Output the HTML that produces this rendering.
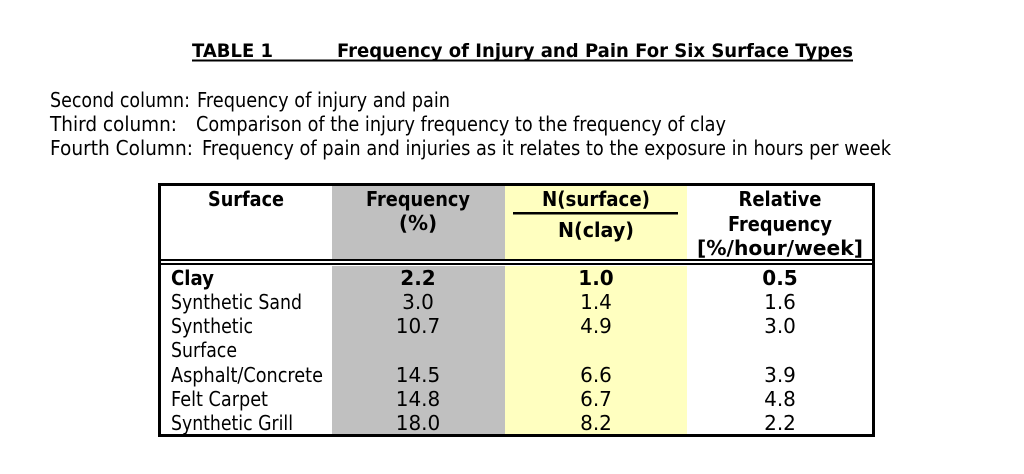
<!DOCTYPE html>
<html><head><meta charset="utf-8"><style>
html,body{margin:0;padding:0;background:#fff;}
svg{display:block;}
text{font-family:"DejaVu Sans","Liberation Sans",sans-serif;fill:#000;}
.b{font-weight:bold;}
</style></head><body>
<svg width="1024" height="474" viewBox="0 0 1024 474">
<text x="192" y="57" font-size="19" class="b" textLength="81" lengthAdjust="spacingAndGlyphs">TABLE 1</text>
<text x="337" y="57" font-size="19" class="b" textLength="516" lengthAdjust="spacingAndGlyphs">Frequency of Injury and Pain For Six Surface Types</text>
<rect x="192" y="59.5" width="661" height="2" fill="#000"/>

<text x="50" y="107" font-size="20" textLength="140" lengthAdjust="spacingAndGlyphs">Second column:</text>
<text x="197" y="107" font-size="20" textLength="253" lengthAdjust="spacingAndGlyphs">Frequency of injury and pain</text>
<text x="50" y="131" font-size="20" textLength="127" lengthAdjust="spacingAndGlyphs">Third column:</text>
<text x="196" y="131" font-size="20" textLength="530" lengthAdjust="spacingAndGlyphs">Comparison of the injury frequency to the frequency of clay</text>
<text x="50" y="155" font-size="20" textLength="143" lengthAdjust="spacingAndGlyphs">Fourth Column:</text>
<text x="202" y="155" font-size="20" textLength="689" lengthAdjust="spacingAndGlyphs">Frequency of pain and injuries as it relates to the exposure in hours per week</text>

<rect x="332" y="186" width="173" height="73" fill="#c0c0c0"/>
<rect x="332" y="266" width="173" height="169" fill="#c0c0c0"/>
<rect x="505" y="186" width="182" height="73" fill="#ffffc0"/>
<rect x="505" y="266" width="182" height="169" fill="#ffffc0"/>
<rect x="159.5" y="184.5" width="714" height="251" fill="none" stroke="#000" stroke-width="3"/>
<rect x="159" y="259" width="715" height="2" fill="#000"/>
<rect x="159" y="263" width="715" height="2" fill="#000"/>

<g font-size="20" text-anchor="middle">
<text x="246" y="206" class="b" textLength="76" lengthAdjust="spacingAndGlyphs">Surface</text>
<text x="418" y="206" class="b" textLength="104" lengthAdjust="spacingAndGlyphs">Frequency</text>
<text x="418" y="230" class="b">(%)</text>
<text x="596" y="206" class="b" textLength="108" lengthAdjust="spacingAndGlyphs">N(surface)</text>
<text x="596" y="237" class="b" textLength="76" lengthAdjust="spacingAndGlyphs">N(clay)</text>
<text x="780" y="206" class="b" textLength="83" lengthAdjust="spacingAndGlyphs">Relative</text>
<text x="780" y="231" class="b" textLength="104" lengthAdjust="spacingAndGlyphs">Frequency</text>
<text x="780" y="255" class="b" textLength="166" lengthAdjust="spacingAndGlyphs">[%/hour/week]</text>
</g>
<rect x="513" y="212" width="165" height="2.5" fill="#000"/>

<g font-size="20">
<text x="171" y="285" class="b" textLength="43" lengthAdjust="spacingAndGlyphs">Clay</text>
<text x="171" y="309" textLength="131" lengthAdjust="spacingAndGlyphs">Synthetic Sand</text>
<text x="171" y="333" textLength="82" lengthAdjust="spacingAndGlyphs">Synthetic</text>
<text x="171" y="357" textLength="66" lengthAdjust="spacingAndGlyphs">Surface</text>
<text x="171" y="382" textLength="152" lengthAdjust="spacingAndGlyphs">Asphalt/Concrete</text>
<text x="171" y="406" textLength="97" lengthAdjust="spacingAndGlyphs">Felt Carpet</text>
<text x="171" y="430" textLength="122" lengthAdjust="spacingAndGlyphs">Synthetic Grill</text>
</g>
<g font-size="20" text-anchor="middle">
<text x="418" y="285" class="b">2.2</text><text x="596" y="285" class="b">1.0</text><text x="780" y="285" class="b">0.5</text>
<text x="418" y="309">3.0</text><text x="596" y="309">1.4</text><text x="780" y="309">1.6</text>
<text x="418" y="333">10.7</text><text x="596" y="333">4.9</text><text x="780" y="333">3.0</text>
<text x="418" y="382">14.5</text><text x="596" y="382">6.6</text><text x="780" y="382">3.9</text>
<text x="418" y="406">14.8</text><text x="596" y="406">6.7</text><text x="780" y="406">4.8</text>
<text x="418" y="430">18.0</text><text x="596" y="430">8.2</text><text x="780" y="430">2.2</text>
</g>
</svg>
</body></html>
